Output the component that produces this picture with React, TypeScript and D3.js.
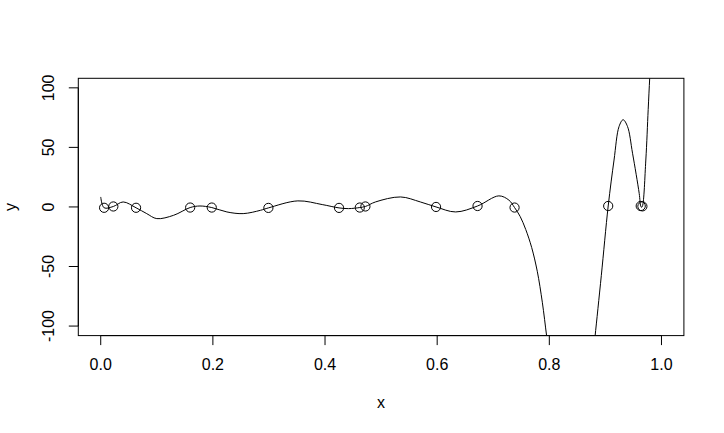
import { useEffect, useRef } from "react";
import * as d3 from "d3";

// observed points (x, y)
const pointX = [0.006, 0.0225, 0.063, 0.1595, 0.198, 0.299, 0.425, 0.462, 0.472, 0.598, 0.672, 0.738, 0.905, 0.963, 0.966];
const pointY = [-0.7, 0.4, -0.7, -0.5, -0.5, -0.8, -0.8, -0.5, 0.4, 0, 0.8, -0.5, 0.8, 0.8, 0.5];

// fitted curve (NaN = gap below the plot region)
const curveX = [
  0.0, 0.006, 0.0225, 0.04, 0.063, 0.082, 0.1, 0.13, 0.1595, 0.177, 0.198, 0.225, 0.254, 0.285, 0.299,
  0.3515, 0.395, 0.425, 0.442, 0.462, 0.472, 0.49, 0.5346, 0.57, 0.598, 0.633, 0.672, 0.71, 0.728, 0.738,
  0.748, 0.758, 0.7685, 0.7785, 0.7875, 0.7952, 0.801, 0.84,
  0.8787, 0.8816, 0.8927, 0.905, 0.9154, 0.9244, 0.9316, 0.9394, 0.9484, 0.9603, 0.963, 0.9645, 0.966,
  0.9721, 0.9763, 0.979, 0.981,
];
const curveY = [
  8.4, -0.7, 0.4, 4.2, -0.7, -5.6, -9.8, -7.0, -0.5, 0.8, -0.5, -4.2, -5.6, -2.8, -0.8,
  5.1, 2.0, -0.8, -1.4, -0.5, 0.4, 4.2, 8.4, 4.2, 0, -4.2, 0.8, 9.3, 5.7, -0.5,
  -8, -19, -34, -54, -80, -108.4, -130, NaN,
  -121, -108.4, -57.7, 0.8, 39.4, 67.6, 73.2, 67.6, 45.1, 11.3, 0.8, -0.3, 0.5,
  39.4, 81.7, 107.9, 125,
];

const xTicks = [0, 0.2, 0.4, 0.6, 0.8, 1.0];
const yTicks = [-100, -50, 0, 50, 100];

const W = 724;
const H = 433;
const margin = { top: 78.3, right: 40.1, bottom: 97.4, left: 78.3 };
const font = "'Liberation Sans', Arial, Helvetica, sans-serif";

export default function App() {
  const ref = useRef<SVGSVGElement>(null);

  useEffect(() => {
    const svg = d3.select(ref.current);
    svg.selectAll("*").remove();

    const x = d3.scaleLinear().domain([-0.04, 1.04]).range([margin.left, W - margin.right]);
    const y = d3.scaleLinear().domain([-108, 108]).range([H - margin.bottom, margin.top]);
    const [x0, x1] = x.range();
    const [y0, y1] = y.range();

    svg.append("rect").attr("width", W).attr("height", H).attr("fill", "white");

    svg.append("clipPath").attr("id", "plot-clip")
      .append("rect")
      .attr("x", x0).attr("y", y1)
      .attr("width", x1 - x0).attr("height", y0 - y1);

    // curve
    const pts = curveX.map((d, i) => [d, curveY[i]] as [number, number]);
    const line = d3.line<[number, number]>()
      .defined(d => !Number.isNaN(d[1]))
      .x(d => x(d[0]))
      .y(d => y(d[1]))
      .curve(d3.curveCatmullRom.alpha(0.5));
    svg.append("path")
      .attr("clip-path", "url(#plot-clip)")
      .attr("d", line(pts))
      .attr("fill", "none")
      .attr("stroke", "black")
      .attr("stroke-width", 1);

    // points (pch = 1)
    svg.append("g")
      .selectAll("circle")
      .data(pointX.map((d, i) => [d, pointY[i]]))
      .join("circle")
      .attr("cx", d => x(d[0]))
      .attr("cy", d => y(d[1]))
      .attr("r", 4.6)
      .attr("fill", "none")
      .attr("stroke", "black")
      .attr("stroke-width", 1);

    // box
    svg.append("rect")
      .attr("x", x0).attr("y", y1)
      .attr("width", x1 - x0).attr("height", y0 - y1)
      .attr("fill", "none").attr("stroke", "black");

    const tickLen = 9.5;

    // x axis
    const gx = svg.append("g").attr("font-family", font).attr("font-size", 16).attr("text-anchor", "middle");
    gx.append("line")
      .attr("x1", x(xTicks[0])).attr("x2", x(xTicks[xTicks.length - 1]))
      .attr("y1", y0).attr("y2", y0).attr("stroke", "black");
    gx.selectAll("line.t").data(xTicks).join("line").attr("class", "t")
      .attr("x1", d => x(d)).attr("x2", d => x(d))
      .attr("y1", y0).attr("y2", y0 + tickLen).attr("stroke", "black");
    gx.selectAll("text").data(xTicks).join("text")
      .attr("x", d => x(d)).attr("y", y0 + 34)
      .text(d => d3.format(".1f")(d));
    gx.append("text").attr("x", (x0 + x1) / 2).attr("y", y0 + 72).text("x");

    // y axis
    const gy = svg.append("g").attr("font-family", font).attr("font-size", 16).attr("text-anchor", "middle");
    gy.append("line")
      .attr("x1", x0).attr("x2", x0)
      .attr("y1", y(yTicks[0])).attr("y2", y(yTicks[yTicks.length - 1])).attr("stroke", "black");
    gy.selectAll("line.t").data(yTicks).join("line").attr("class", "t")
      .attr("x1", x0 - tickLen).attr("x2", x0)
      .attr("y1", d => y(d)).attr("y2", d => y(d)).attr("stroke", "black");
    gy.selectAll("text").data(yTicks).join("text")
      .attr("transform", d => `translate(${x0 - 24},${y(d)}) rotate(-90)`)
      .text(d => String(d));
    gy.append("text")
      .attr("transform", `translate(${x0 - 62},${(y0 + y1) / 2}) rotate(-90)`)
      .text("y");
  }, []);

  return (
    <svg ref={ref} width={W} height={H}
      style={{ position: "absolute", left: 0, top: 0, display: "block" }} />
  );
}
